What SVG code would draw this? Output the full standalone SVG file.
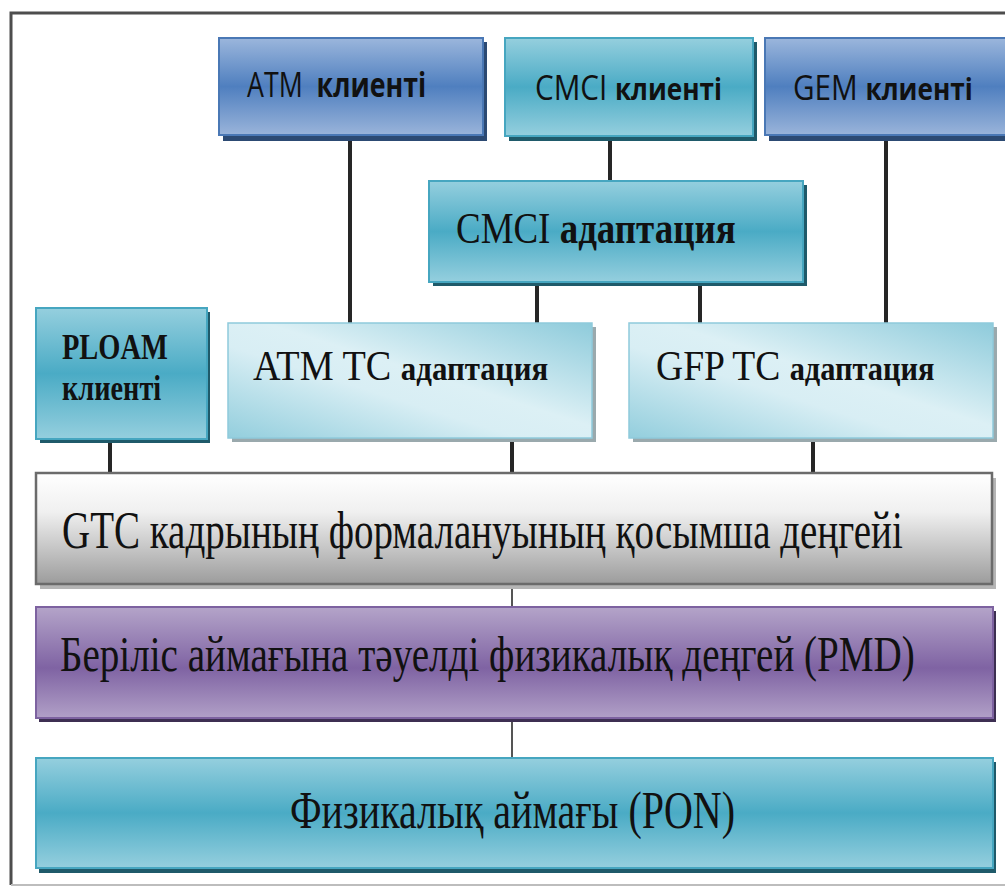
<svg xmlns="http://www.w3.org/2000/svg" width="1005" height="887" viewBox="0 0 1005 887">
<style>
.sans{font-family:"Open Sans","Noto Sans","Liberation Sans",sans-serif;fill:#111}
.serif{font-family:"Liberation Serif","DejaVu Serif",serif;fill:#111}
.b{font-weight:bold}
.conn{stroke:#262626;stroke-width:4;fill:none}
.thin{stroke:#555;stroke-width:2;fill:none}
.blue{fill:url(#gBlue);stroke:#4a78b5;stroke-width:2}
.teal{fill:url(#gTeal);stroke:#46a6c0;stroke-width:2}
.light{fill:url(#gLight);stroke:#8fcadb;stroke-width:1.5}
.gray{fill:url(#gGray);stroke:#6b6b6b;stroke-width:2.5}
.purple{fill:url(#gPurple);stroke:#7d62a0;stroke-width:2}
.shBlue{fill:#2c4a73}
.shTeal{fill:#1f5a6a}
.shPurple{fill:#3d2f52}
.shGray{fill:#b5b5b5}
.shLight{fill:#9aa9ad}
</style>
<defs>
<linearGradient id="gBlue" x1="0" y1="0" x2="0" y2="1">
<stop offset="0" stop-color="#9bb6dc"/><stop offset="0.5" stop-color="#4f7fbf"/><stop offset="1" stop-color="#9ab4da"/>
</linearGradient>
<linearGradient id="gTeal" x1="0" y1="0" x2="0" y2="1">
<stop offset="0" stop-color="#95cfde"/><stop offset="0.5" stop-color="#4aabc5"/><stop offset="1" stop-color="#95cfde"/>
</linearGradient>
<linearGradient id="gLight" x1="1" y1="0" x2="0" y2="1">
<stop offset="0" stop-color="#8ecbdb"/><stop offset="0.45" stop-color="#dcf0f5"/><stop offset="0.6" stop-color="#d8eef4"/><stop offset="1" stop-color="#93cedd"/>
</linearGradient>
<linearGradient id="gGray" x1="0" y1="0" x2="0" y2="1">
<stop offset="0" stop-color="#ffffff"/><stop offset="0.35" stop-color="#f0f0f0"/><stop offset="1" stop-color="#9c9c9c"/>
</linearGradient>
<linearGradient id="gPurple" x1="0" y1="0" x2="0" y2="1">
<stop offset="0" stop-color="#b4a4c9"/><stop offset="0.55" stop-color="#7f63a3"/><stop offset="1" stop-color="#b1a0c7"/>
</linearGradient>
</defs>
<path d="M1005,13 H11 V885" fill="none" stroke="#4d4d4d" stroke-width="3"/>
<path d="M11,885 H1005" fill="none" stroke="#bdbdbd" stroke-width="2"/>
<g id="connectors">
<line class="conn" x1="350" y1="137" x2="350" y2="323"/>
<line class="conn" x1="610" y1="138" x2="610" y2="181"/>
<line class="conn" x1="886" y1="137" x2="886" y2="323"/>
<line class="conn" x1="537" y1="284" x2="537" y2="323"/>
<line class="conn" x1="700" y1="284" x2="700" y2="323"/>
<line class="conn" x1="110" y1="441" x2="110" y2="473"/>
<line class="conn" x1="512" y1="441" x2="512" y2="473"/>
<line class="conn" x1="813" y1="441" x2="813" y2="473"/>
<line class="thin" x1="512" y1="588" x2="512" y2="607"/>
<line class="thin" x1="512" y1="721" x2="512" y2="758"/>
</g>
<g id="atm-client">
<rect class="shBlue" x="223" y="42" width="264" height="99"/>
<rect class="blue" x="219" y="38" width="264" height="97"/>
<text class="sans" transform="translate(247,97) scale(0.8,1)" font-size="34" textLength="224" lengthAdjust="spacingAndGlyphs" xml:space="preserve">ATM  <tspan class="b">клиенті</tspan></text>
</g>
<g id="cmci-client">
<rect class="shTeal" x="509" y="42" width="248" height="99"/>
<rect class="teal" x="505" y="38" width="248" height="98"/>
<text class="sans" transform="translate(535,100) scale(0.89,1)" font-size="34" textLength="210" lengthAdjust="spacingAndGlyphs">CMCI <tspan class="b" font-size="30">клиенті</tspan></text>
</g>
<g id="gem-client">
<rect class="shBlue" x="769" y="42" width="250" height="99"/>
<rect class="blue" x="765" y="38" width="250" height="97"/>
<text class="sans" transform="translate(793,100) scale(0.89,1)" font-size="34" textLength="202" lengthAdjust="spacingAndGlyphs">GEM <tspan class="b" font-size="30">клиенті</tspan></text>
</g>
<g id="cmci-adaptation">
<rect class="shTeal" x="433" y="185" width="374" height="101"/>
<rect class="teal" x="429" y="181" width="374" height="101"/>
<text class="serif" transform="translate(456,243) scale(0.83,1)" font-size="45" textLength="337" lengthAdjust="spacingAndGlyphs">CMCI <tspan class="b">адаптация</tspan></text>
</g>
<g id="ploam-client">
<rect class="shTeal" x="40" y="312" width="170" height="131"/>
<rect class="teal" x="36" y="308" width="171" height="131"/>
<text class="serif b" transform="translate(62,359) scale(0.79,1)" font-size="36" textLength="134" lengthAdjust="spacingAndGlyphs">PLOAM</text>
<text class="serif b" transform="translate(62,400) scale(0.8,1)" font-size="36" textLength="124" lengthAdjust="spacingAndGlyphs">клиенті</text>
</g>
<g id="atm-tc">
<rect class="shLight" x="232" y="327" width="364" height="115"/>
<rect class="light" x="228" y="323" width="364" height="115"/>
<text class="serif" transform="translate(253,380) scale(0.9,1)" font-size="42" textLength="328" lengthAdjust="spacingAndGlyphs">ATM TC <tspan class="b" font-size="34">адаптация</tspan></text>
</g>
<g id="gfp-tc">
<rect class="shLight" x="633" y="327" width="364" height="115"/>
<rect class="light" x="629" y="323" width="364" height="115"/>
<text class="serif" transform="translate(656,380) scale(0.89,1)" font-size="42" textLength="313" lengthAdjust="spacingAndGlyphs">GFP TC <tspan class="b" font-size="34">адаптация</tspan></text>
</g>
<g id="gtc">
<rect class="shGray" x="40" y="478" width="956" height="111"/>
<rect class="gray" x="36" y="473" width="956" height="111"/>
<text class="serif" transform="translate(62,548) scale(0.75,1)" font-size="52" textLength="1121" lengthAdjust="spacingAndGlyphs">GTC кадрының формалануының қосымша деңгейі</text>
</g>
<g id="pmd">
<rect class="shPurple" x="39" y="611" width="957" height="111"/>
<rect class="purple" x="36" y="607" width="957" height="111"/>
<text class="serif" transform="translate(60,671) scale(0.78,1)" font-size="50" textLength="1096" lengthAdjust="spacingAndGlyphs">Беріліс аймағына тәуелді физикалық деңгей (PMD)</text>
</g>
<g id="pon">
<rect class="shTeal" x="39" y="762" width="957" height="111"/>
<rect class="teal" x="36" y="758" width="957" height="110"/>
<text class="serif" transform="translate(290,828) scale(0.77,1)" font-size="52" textLength="578" lengthAdjust="spacingAndGlyphs">Физикалық аймағы (PON)</text>
</g>
</svg>
